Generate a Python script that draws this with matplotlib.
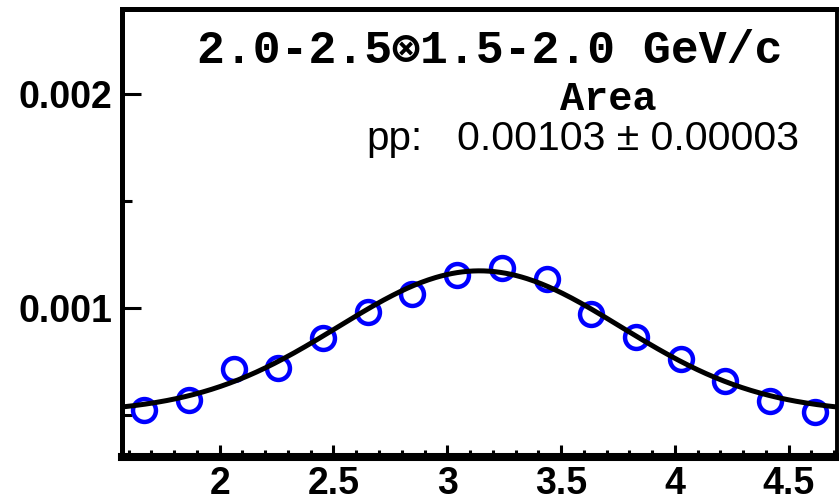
import numpy as np
import matplotlib
matplotlib.use("Agg")
import matplotlib.pyplot as plt
from matplotlib.ticker import FixedLocator, MultipleLocator

# measured points (pp), bins of width pi/16 between pi/2 and 3pi/2
dphi = [1.669, 1.865, 2.062, 2.258, 2.454, 2.651, 2.847, 3.043,
        3.240, 3.436, 3.633, 3.829, 4.025, 4.221, 4.418, 4.614]
yield_pp = [0.000522, 0.000569, 0.000716, 0.000720, 0.000859, 0.000983,
            0.001066, 0.001153, 0.001185, 0.001135, 0.000972, 0.000867,
            0.000763, 0.000657, 0.000564, 0.000515]

# gaussian + constant fit (away side)
fit_base = 0.000511
fit_amp = 0.000663
fit_mean = np.pi
fit_sigma = 0.62

x_ticks = [2.0, 2.5, 3.0, 3.5, 4.0, 4.5]
x_ticklabels = ["2", "2.5", "3", "3.5", "4", "4.5"]
y_ticks = [0.001, 0.002]
y_ticklabels = ["0.001", "0.002"]

title_text = "2.0-2.5\u22971.5-2.0 GeV/c"
area_label = "Area"
pp_label = "pp:"
pp_value = "0.00103 \u00b1 0.00003"

W, H = 839, 501
fig = plt.figure(figsize=(W / 100, H / 100), dpi=100)
ax = fig.add_axes([122 / W, 1 - 457 / H, (837 - 122) / W, (457 - 8.5) / H])

ax.plot(dphi, yield_pp, "o", ms=16.5, mfc="none", mec="#0000ff", mew=3.2, zorder=2)
xx = np.linspace(np.pi / 2, 3 * np.pi / 2, 400)
ax.plot(xx, fit_base + fit_amp * np.exp(-(xx - fit_mean) ** 2 / (2 * fit_sigma ** 2)),
        color="black", lw=3.6, zorder=3)

ax.set_xlim(np.pi / 2, 3 * np.pi / 2)
ax.set_ylim(0.000304, 0.0024)

ax.xaxis.set_major_locator(FixedLocator(x_ticks))
ax.set_xticklabels(x_ticklabels)
ax.xaxis.set_minor_locator(MultipleLocator(0.1))
ax.yaxis.set_major_locator(FixedLocator(y_ticks))
ax.set_yticklabels(y_ticklabels)
ax.yaxis.set_minor_locator(MultipleLocator(0.0005))

for lab in ax.get_xticklabels() + ax.get_yticklabels():
    lab.set_fontfamily("Liberation Sans")
    lab.set_fontweight("bold")
    lab.set_fontsize(27)

ax.tick_params(axis="x", which="major", direction="in", length=9, width=2.2, pad=6.5)
ax.tick_params(axis="x", which="minor", direction="in", length=5, width=2.2)
ax.tick_params(axis="y", which="major", direction="in", length=14, width=2.2, pad=7)
ax.tick_params(axis="y", which="minor", direction="in", length=7, width=2.2)

ax.spines["left"].set_linewidth(3.6)
ax.spines["top"].set_linewidth(3.6)
ax.spines["right"].set_linewidth(2.8)
ax.spines["bottom"].set_linewidth(5.8)

fig.text(490 / W, 1 - 63 / H, title_text, ha="center", va="baseline",
         family=["Liberation Mono", "DejaVu Sans Mono", "DejaVu Sans"],
         fontweight="bold", fontsize=33.4)
fig.text(608 / W, 1 - 110 / H, area_label, ha="center", va="baseline",
         family=["Liberation Mono"], fontweight="bold", fontsize=29)
fig.text(366 / W, 1 - 150 / H, pp_label, ha="left", va="baseline",
         family=["Liberation Sans"], fontsize=29)
fig.text(457 / W, 1 - 150 / H, pp_value, ha="left", va="baseline",
         family=["Liberation Sans"], fontsize=29.5)

fig.savefig("out.png", dpi=100)
